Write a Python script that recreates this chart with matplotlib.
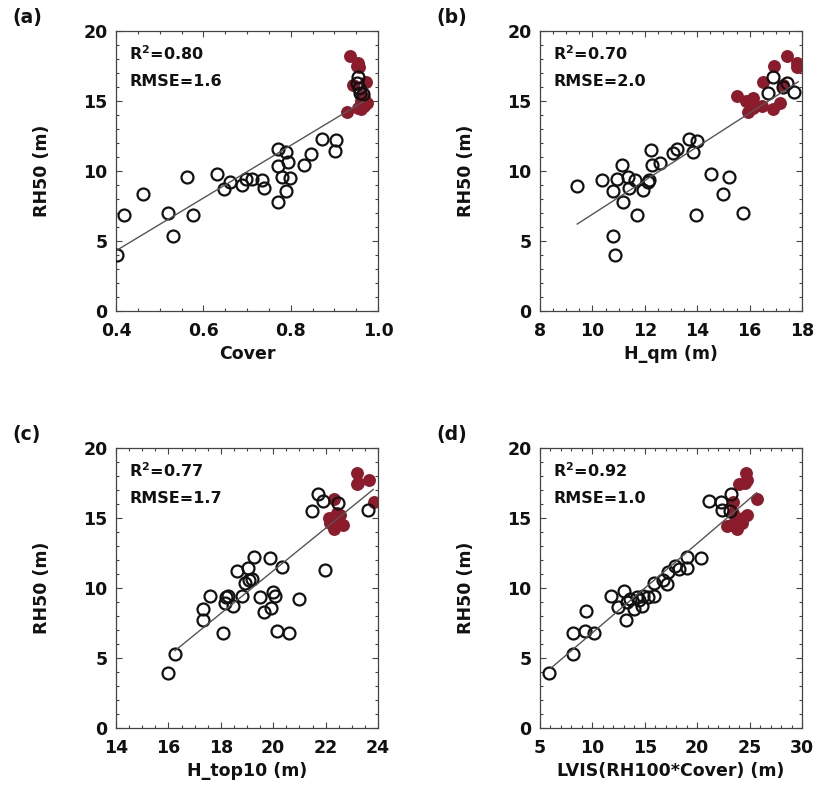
import matplotlib

matplotlib.use("Agg")
import matplotlib.pyplot as plt
from matplotlib.ticker import MultipleLocator

plt.rcParams["font.family"] = ["DejaVu Sans"]
plt.rcParams["font.weight"] = "bold"

# --- (a) Cover ---
a_open_x = [0.403, 0.418, 0.4625, 0.518, 0.53, 0.563, 0.5755, 0.632, 0.647, 0.661,
            0.688, 0.697, 0.711, 0.735, 0.74, 0.772, 0.772, 0.770, 0.79, 0.793,
            0.78, 0.798, 0.789, 0.83, 0.846, 0.871, 0.904, 0.901, 0.955, 0.951,
            0.957, 0.959, 0.965]
a_open_y = [4.0, 6.86, 8.36, 6.98, 5.36, 9.55, 6.86, 9.79, 8.69, 9.19,
            9.0, 9.40, 9.40, 9.36, 8.81, 11.55, 10.38, 7.81, 11.38, 10.62,
            9.55, 9.48, 8.57, 10.43, 11.21, 12.26, 12.21, 11.45, 16.74, 16.26,
            15.9, 15.55, 15.5]
a_red_x = [0.936, 0.955, 0.957, 0.952, 0.973, 0.943, 0.962, 0.968, 0.960, 0.975,
           0.968, 0.955, 0.962, 0.928]
a_red_y = [18.2, 17.74, 17.45, 17.5, 16.38, 16.14, 15.36, 15.19, 15.0, 14.83,
           14.64, 14.48, 14.4, 14.24]
a_fit_x = [0.403, 0.966]
a_fit_y = [4.36, 14.95]

# --- (b) H_qm ---
b_open_x = [9.42, 10.35, 10.93, 10.80, 11.16, 11.37, 11.41, 11.63, 11.72, 11.94,
            12.13, 12.17, 12.25, 12.29, 12.58, 13.06, 13.22, 13.69, 13.85, 14.0,
            13.95, 14.51, 15.0, 15.23, 15.74, 10.80, 10.86, 11.12, 16.71, 16.88,
            17.26, 17.41, 17.69]
b_open_y = [8.95, 9.36, 9.40, 8.57, 7.81, 9.60, 8.76, 9.36, 6.86, 8.64,
            9.24, 9.36, 11.5, 10.4, 10.6, 11.26, 11.55, 12.26, 11.38, 12.17,
            6.86, 9.79, 8.36, 9.55, 6.98, 5.36, 4.0, 10.43, 15.55, 16.69,
            16.02, 16.26, 15.67]
b_red_x = [15.53, 15.86, 16.14, 15.95, 16.14, 16.46, 16.5, 16.93, 17.41, 17.8,
           17.82, 16.88, 17.16, 17.29]
b_red_y = [15.36, 15.0, 15.19, 14.24, 14.48, 14.64, 16.38, 17.5, 18.2, 17.74,
           17.45, 14.4, 14.83, 16.14]
b_fit_x = [9.42, 17.86]
b_fit_y = [6.21, 16.38]

# --- (c) H_top10 ---
c_open_x = [15.97, 16.25, 17.31, 17.31, 17.59, 18.07, 18.20, 18.29, 18.16, 18.48,
            18.63, 18.80, 18.92, 19.05, 19.09, 19.18, 19.27, 19.50, 19.63, 19.88,
            19.92, 19.98, 20.07, 20.13, 20.32, 20.60, 21.0, 21.47, 21.72, 21.91,
            21.98, 22.49, 23.63]
c_open_y = [3.92, 5.28, 8.51, 7.74, 9.46, 6.81, 9.34, 9.41, 8.91, 8.70,
            11.18, 9.46, 10.35, 11.42, 10.59, 10.66, 12.21, 9.34, 8.32, 12.16,
            8.58, 9.70, 9.46, 6.91, 11.49, 6.81, 9.18, 15.48, 16.68, 16.2,
            11.3, 16.08, 15.60]
c_red_x = [23.19, 23.67, 23.19, 23.25, 22.33, 23.85, 22.45, 22.55, 22.14, 22.30,
           22.17, 22.65, 22.36, 22.32]
c_red_y = [18.2, 17.74, 17.45, 17.5, 16.38, 16.14, 15.36, 15.19, 15.0, 14.83,
           14.64, 14.48, 14.4, 14.24]
c_fit_x = [16.25, 23.82]
c_fit_y = [5.52, 17.04]

# --- (d) LVIS(RH100*Cover) ---
d_open_x = [5.89, 8.18, 8.18, 9.39, 9.29, 10.15, 11.74, 12.47, 13.05, 13.17,
            13.27, 13.59, 14.0, 14.22, 14.70, 14.86, 15.34, 15.88, 15.88, 16.77,
            17.15, 17.25, 17.88, 18.3, 19.0, 19.06, 20.36, 21.16, 22.24, 22.33,
            23.13, 23.22, 14.45]
d_open_y = [3.92, 5.28, 6.81, 8.34, 6.91, 6.81, 9.46, 8.63, 9.77, 7.74,
            8.98, 9.22, 8.51, 9.34, 8.75, 9.46, 9.34, 9.46, 10.35, 10.59,
            10.30, 11.13, 11.54, 11.37, 11.45, 12.21, 12.14, 16.2, 16.15, 15.60,
            15.48, 16.70, 9.17]
d_red_x = [24.66, 24.72, 24.02, 24.60, 25.67, 23.45, 23.38, 24.72, 24.40, 23.92,
           24.24, 23.19, 22.88, 23.77]
d_red_y = [18.2, 17.74, 17.45, 17.5, 16.38, 16.14, 15.36, 15.19, 15.0, 14.83,
           14.64, 14.48, 14.4, 14.24]
d_fit_x = [6.11, 25.67]
d_fit_y = [4.32, 16.8]

panels = [
    ("(a)", "Cover", (0.4, 1.0), 0.2, 0.05, "%.1f", "0.80", "1.6",
     a_open_x, a_open_y, a_red_x, a_red_y, a_fit_x, a_fit_y),
    ("(b)", "H_qm (m)", (8, 18), 2, 0.5, "%d", "0.70", "2.0",
     b_open_x, b_open_y, b_red_x, b_red_y, b_fit_x, b_fit_y),
    ("(c)", "H_top10 (m)", (14, 24), 2, 0.5, "%d", "0.77", "1.7",
     c_open_x, c_open_y, c_red_x, c_red_y, c_fit_x, c_fit_y),
    ("(d)", "LVIS(RH100*Cover) (m)", (5, 30), 5, 1, "%d", "0.92", "1.0",
     d_open_x, d_open_y, d_red_x, d_red_y, d_fit_x, d_fit_y),
]

W, H = 819, 792
fig = plt.figure(figsize=(W / 100, H / 100), dpi=100)

# pixel boxes: left, top
boxes = [(116, 31), (540, 31), (116, 448), (540, 448)]
ax_w, ax_h = 262, 280
text_col = "#111111"
red = "#8c1c2c"

for (label, xlabel, xlim, xmaj, xmin, fmt, r2, rmse,
     ox, oy, rx, ry, fx, fy), (left, top) in zip(panels, boxes):
    ax = fig.add_axes([left / W, (H - top - ax_h) / H, ax_w / W, ax_h / H])
    ax.plot(rx, ry, "o", color=red, ms=9.3, mew=0, zorder=2)
    ax.plot(ox, oy, "o", mfc="none", mec=text_col, ms=8.6, mew=1.6, zorder=3)
    ax.plot(fx, fy, "-", color="#555555", lw=1.0, zorder=4)

    ax.set_xlim(*xlim)
    ax.set_ylim(0, 20)
    ax.xaxis.set_major_locator(MultipleLocator(xmaj))
    ax.xaxis.set_minor_locator(MultipleLocator(xmin))
    ax.yaxis.set_major_locator(MultipleLocator(5))
    ax.yaxis.set_minor_locator(MultipleLocator(1))
    ax.xaxis.set_major_formatter(plt.FormatStrFormatter(fmt))
    ax.tick_params(which="both", direction="in", top=True, right=True,
                   color="#444444", width=0.8)
    ax.tick_params(which="major", length=4.5, labelsize=12.5, colors="#444444",
                   labelcolor=text_col)
    ax.tick_params(which="minor", length=2.2)
    ax.tick_params(axis="x", which="major", pad=8)
    ax.tick_params(axis="y", which="major", pad=6)
    for sp in ax.spines.values():
        sp.set_color("#444444")
        sp.set_linewidth(0.9)

    ax.set_xlabel(xlabel, fontsize=12.5, fontweight="bold", color=text_col)
    ax.set_ylabel("RH50 (m)", fontsize=12.5, fontweight="bold", color=text_col)
    ax.xaxis.set_label_coords(0.5, -0.12)
    ax.yaxis.set_label_coords(-0.248, 0.5)

    ax.text(0.05, 0.92, r"R$^{\mathbf{2}}$=" + r2, transform=ax.transAxes,
            fontsize=11.5, fontweight="bold", color=text_col, va="center",
            ha="left")
    ax.text(0.05, 0.82, "RMSE=" + rmse, transform=ax.transAxes, fontsize=11.5,
            fontweight="bold", color=text_col, va="center", ha="left")

    fig.text((left - 104) / W, 1 - (top - 13) / H, label, fontsize=13.5,
             fontweight="bold", color=text_col, va="center", ha="left")

fig.savefig("out.png", dpi=100)
